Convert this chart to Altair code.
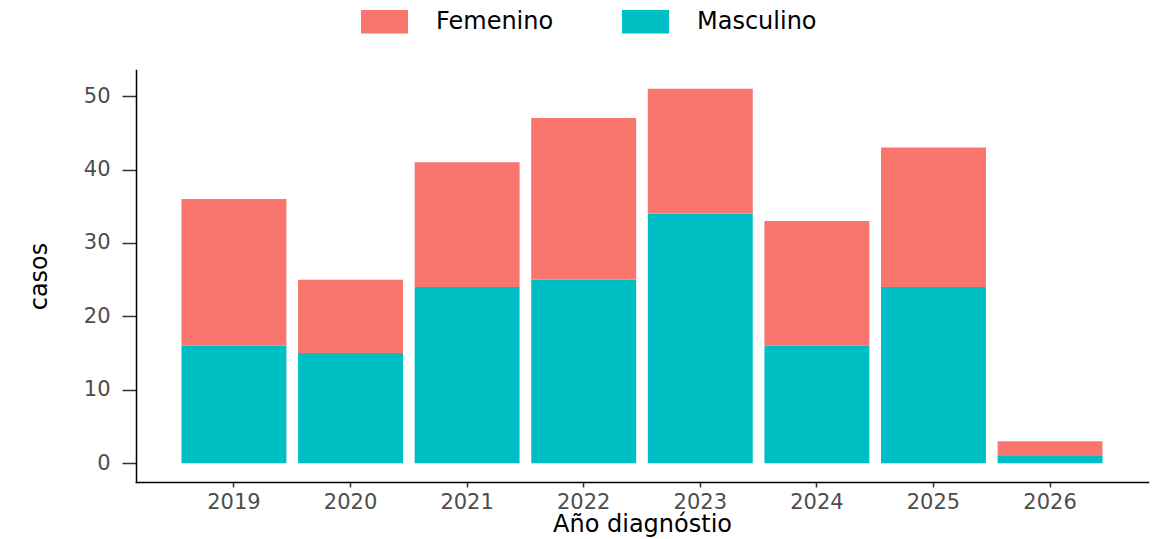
import altair as alt
import pandas as pd

years = ["2019", "2020", "2021", "2022", "2023", "2024", "2025", "2026"]
masculino = [16, 15, 24, 25, 34, 16, 24, 1]
femenino = [20, 10, 17, 22, 17, 17, 19, 2]
sexos = ["Femenino", "Masculino"]
colores = ["#F8766D", "#00BFC4"]

rows = []
for y, m, f in zip(years, masculino, femenino):
    rows.append({"anio": y, "sexo": "Masculino", "casos": m, "ord": 0})
    rows.append({"anio": y, "sexo": "Femenino", "casos": f, "ord": 1})
df = pd.DataFrame(rows)

FONT = "DejaVu Sans"

chart = alt.Chart(df).mark_bar().encode(
    x=alt.X("anio:N", title="Año diagnóstio",
            scale=alt.Scale(paddingInner=0.1, paddingOuter=0.39),
            axis=alt.Axis(labelAngle=0, labelFontSize=21, labelColor="#4D4D4D",
                          labelFont=FONT, labelPadding=4, tickSize=5, tickColor="#333333",
                          tickWidth=1.5, domainColor="#000000", domainWidth=1.5,
                          titleFont=FONT, titleFontSize=24, titleFontWeight="normal",
                          titleColor="#000000", titleY=49, titleBaseline="alphabetic")),
    y=alt.Y("casos:Q", stack="zero", title="casos",
            scale=alt.Scale(domain=[-2.55, 53.55], nice=False, zero=False),
            axis=alt.Axis(values=[0, 10, 20, 30, 40, 50], grid=False, labelFontSize=21,
                          labelColor="#4D4D4D", labelFont=FONT, labelPadding=12,
                          tickSize=14, tickColor="#333333", tickWidth=1.5,
                          domainColor="#000000", domainWidth=1.5,
                          titleFont=FONT, titleFontSize=24, titleFontWeight="normal",
                          titleColor="#000000", titlePadding=32)),
    color=alt.Color("sexo:N", scale=alt.Scale(domain=sexos, range=colores),
                    legend=alt.Legend(title=None, orient="none", direction="horizontal",
                                      legendX=225, legendY=-72,
                                      symbolType="M-1,-0.5H1V0.5H-1Z", symbolSize=2209,
                                      symbolStrokeWidth=0, symbolOpacity=1,
                                      labelFont=FONT, labelFontSize=24, labelColor="#000000",
                                      labelOffset=28, columnPadding=68)),
    order=alt.Order("ord:Q", sort="ascending"),
).properties(
    width=1012, height=412,
    autosize=alt.AutoSizeParams(type="none"),
    padding={"left": 128, "top": 62, "right": 2, "bottom": 57},
).configure_view(stroke=None).configure_axis(domainCap="square")

chart.save("out.html", embed_options={"renderer": "svg", "actions": False})
